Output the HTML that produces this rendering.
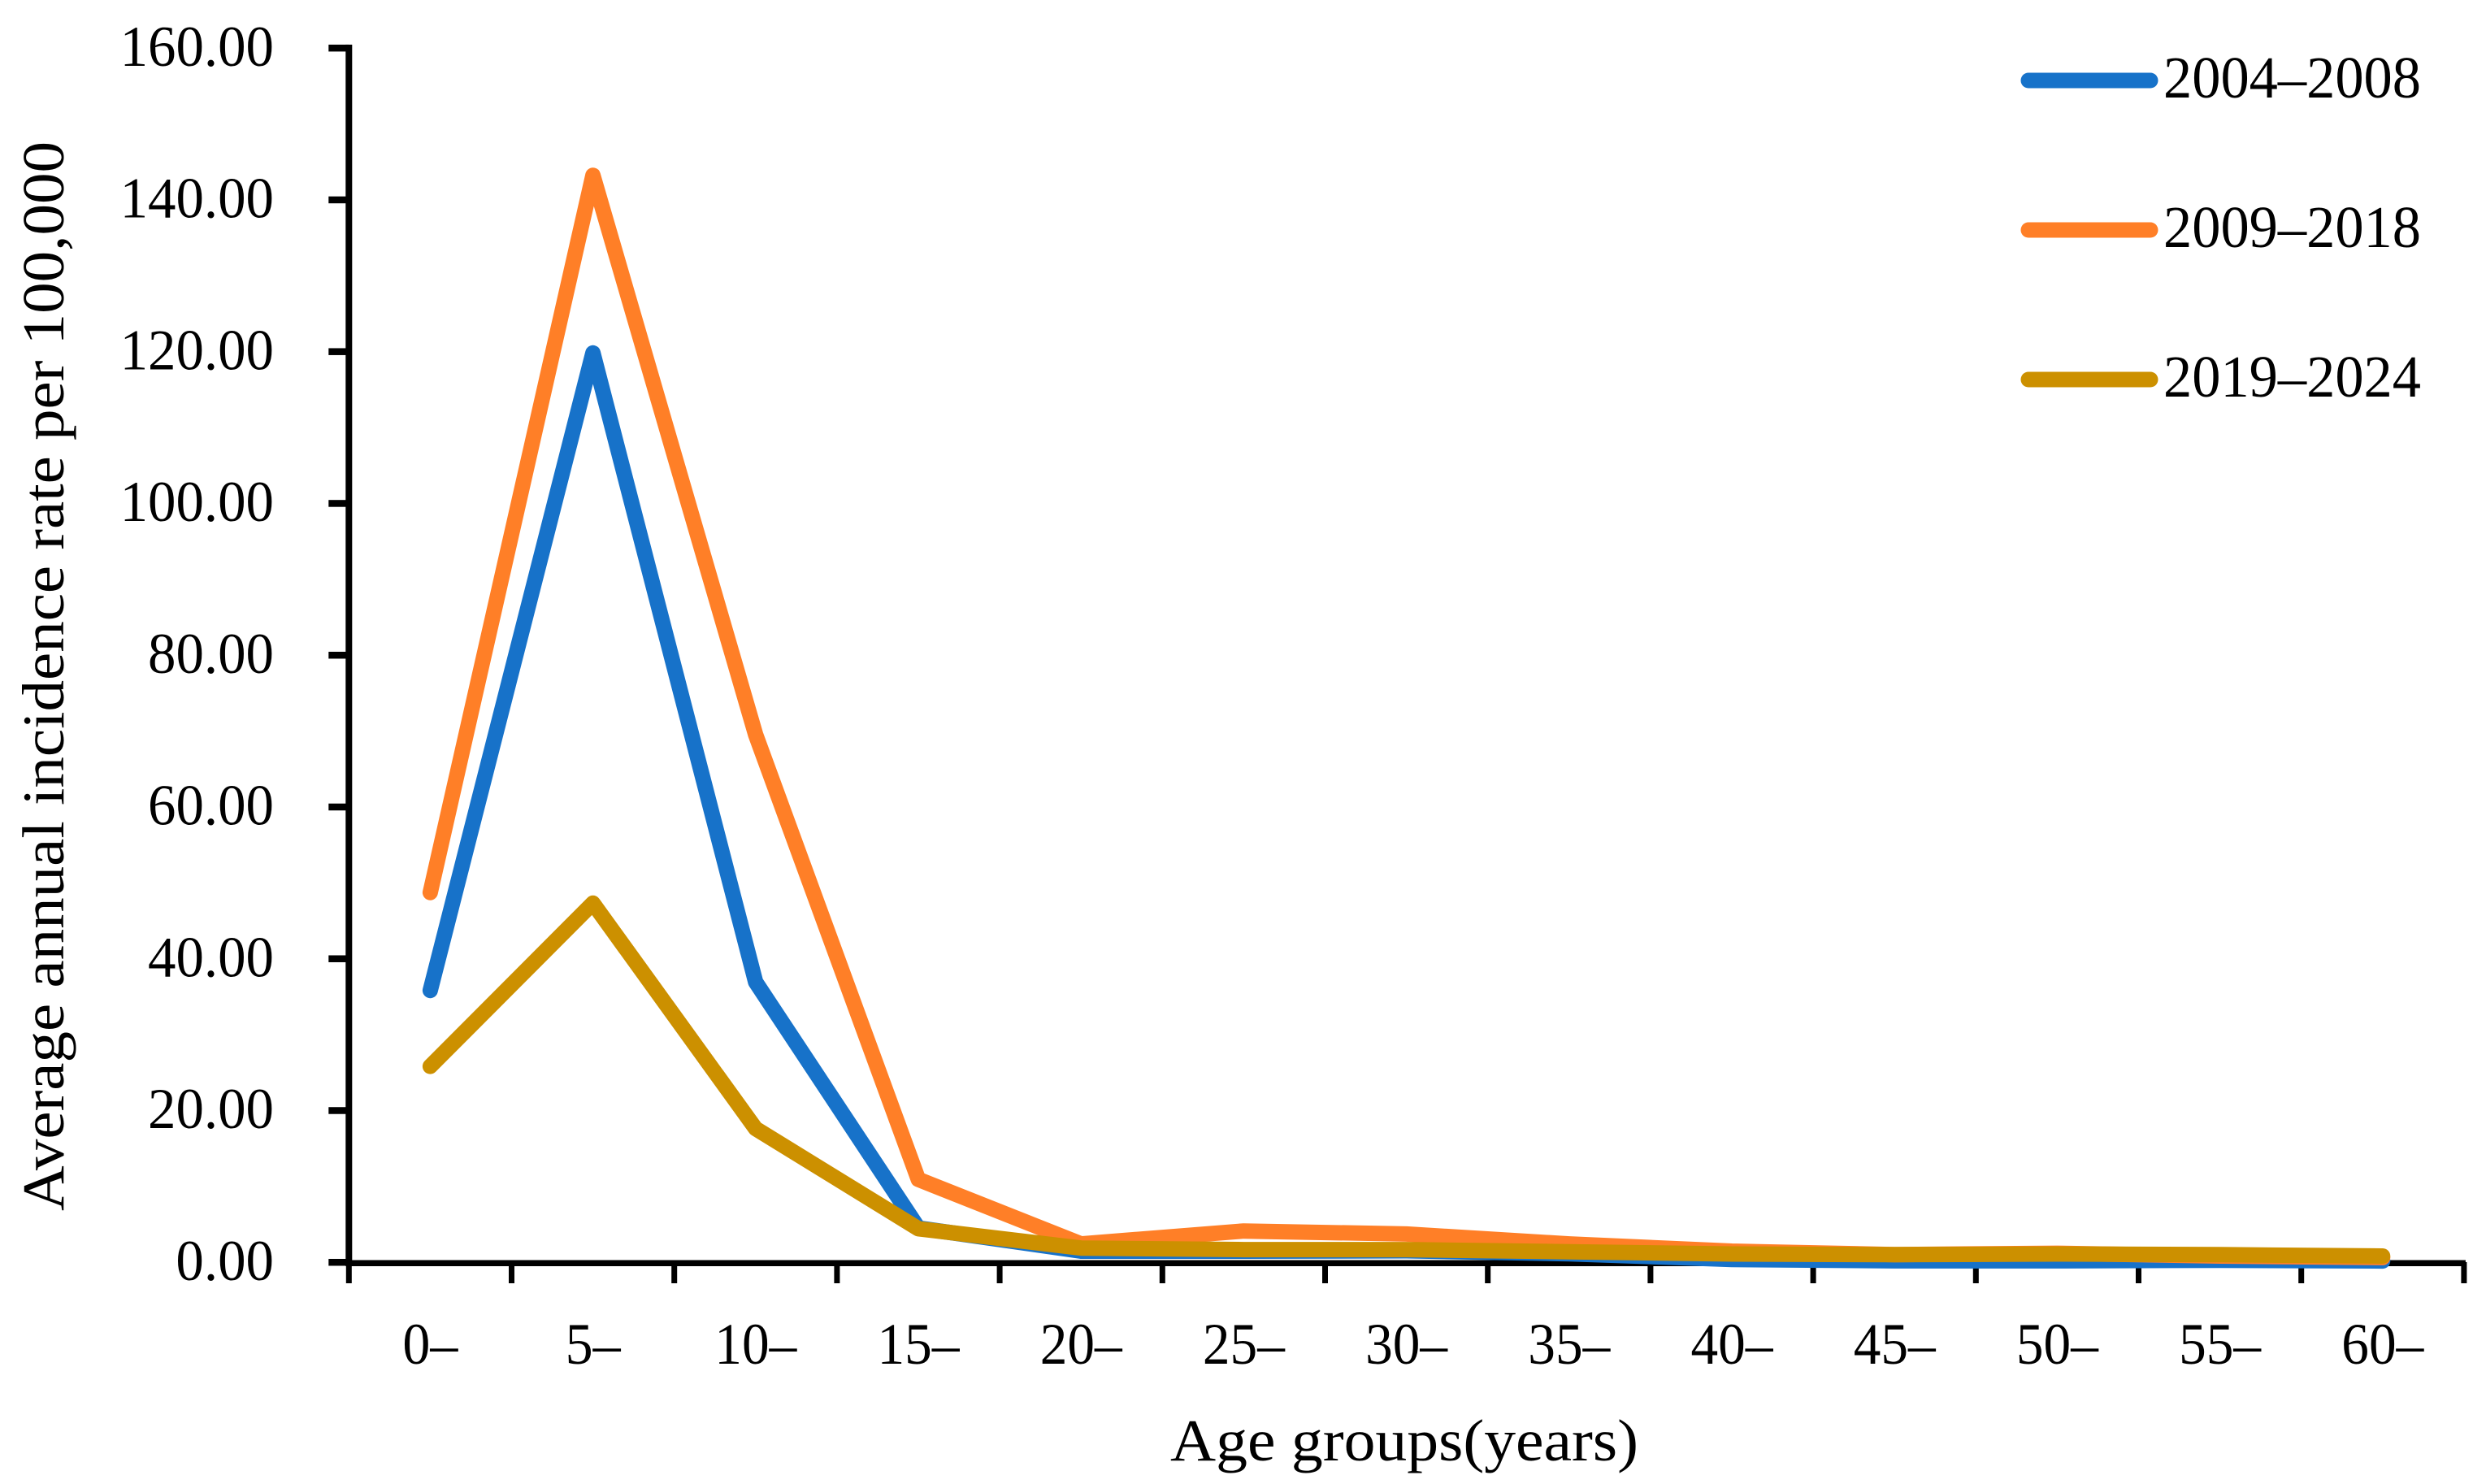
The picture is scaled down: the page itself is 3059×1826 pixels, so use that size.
<!DOCTYPE html>
<html lang="en">
<head>
<meta charset="utf-8">
<title>Average annual incidence rate by age group</title>
<style>
html,body{margin:0;padding:0;background:#fff;}
svg{display:block;}
text{font-family:"Liberation Serif",serif;fill:#000;}
</style>
</head>
<body>
<svg id="chart" xmlns="http://www.w3.org/2000/svg" width="3059" height="1826" viewBox="0 0 3059 1826">
<rect x="0" y="0" width="3059" height="1826" fill="#fff"/>
<g id="axes"></g>
<g id="marks"></g>
<text x="1728" y="1797" font-size="73" text-anchor="middle" textLength="576" lengthAdjust="spacingAndGlyphs">Age groups(years)</text>
<text transform="translate(78,832) rotate(-90)" x="0" y="0" font-size="73" text-anchor="middle" textLength="1316" lengthAdjust="spacingAndGlyphs">Average annual incidence rate per 100,000</text>
<g id="legend"></g>
</svg>
<script>
const categories = ["0–","5–","10–","15–","20–","25–","30–","35–","40–","45–","50–","55–","60–"];
const series2004 = [35.8,119.8,36.9,4.5,1.45,1.45,1.5,1.1,0.35,0.17,0.17,0.25,0.15];
const series2009 = [48.7,143.2,69.5,10.9,2.4,4.1,3.7,2.4,1.45,1.0,1.17,0.8,0.6];
const series2019 = [25.8,47.3,17.6,4.4,1.85,1.65,1.65,1.37,1.07,0.98,1.07,0.98,0.8];
const yTickValues = [0,20,40,60,80,100,120,140,160];
const yTickLabels = ["0.00","20.00","40.00","60.00","80.00","100.00","120.00","140.00","160.00"];
const seriesNames = ["2004–2008","2009–2018","2019–2024"];

const NS = "http://www.w3.org/2000/svg";
const plotLeft = 429.3, categoryWidth = 200.2, plotBottom = 1553, pixelsPerUnit = 9.338;
const seriesColors = ["#1772c9","#ff7f27","#cc9000"];
const seriesData = [series2004, series2009, series2019];

function xEdge(i){ return plotLeft + categoryWidth * i; }
function xPos(i){ return plotLeft + categoryWidth * (i + 0.5); }
function yPos(v){ return plotBottom - v * pixelsPerUnit; }
function make(tag, attrs){
  const el = document.createElementNS(NS, tag);
  for (const k in attrs) el.setAttribute(k, attrs[k]);
  return el;
}

const marks = document.getElementById("marks");
const axes = document.getElementById("axes");
const legend = document.getElementById("legend");

// y axis line
const yLine = make("rect", {x: plotLeft - 4, y: yPos(160) - 4, width: 8, height: plotBottom - yPos(160) + 8, fill: "#000"});


axes.appendChild(yLine);

// x axis line
const xLine = make("rect", {x: plotLeft - 4, y: plotBottom - 2.5, width: xEdge(categories.length) - plotLeft + 6, height: 7.5, fill: "#000"});


axes.appendChild(xLine);

// y ticks and labels
yTickValues.forEach(function(v, i){
  const tick = make("rect", {x: plotLeft - 25, y: yPos(v) - 4, width: 25, height: 8.5, fill: "#000"});
  
  
  axes.appendChild(tick);
  const label = make("text", {x: 337, y: yPos(v) + 22, "font-size": 71, "text-anchor": "end", textLength: yTickLabels[i].length * 34.4 - 17, lengthAdjust: "spacingAndGlyphs"});
  
  
  label.textContent = yTickLabels[i];
  axes.appendChild(label);
});

// x ticks
for (let i = 0; i <= categories.length; i++) {
  const tick = make("rect", {x: xEdge(i) - 3.5, y: plotBottom, width: 7, height: 26, fill: "#000"});
  
  
  axes.appendChild(tick);
}

// x labels
categories.forEach(function(c, i){
  const label = make("text", {x: xPos(i), y: 1678, "font-size": 72, "text-anchor": "middle", textLength: 35 + 33 * (c.length - 1), lengthAdjust: "spacingAndGlyphs"});
  
  
  label.textContent = c;
  axes.appendChild(label);
});

// series lines
seriesData.forEach(function(values, s){
  const pts = values.map(function(v, i){ return xPos(i).toFixed(1) + "," + yPos(v).toFixed(1); }).join(" ");
  const line = make("polyline", {points: pts, fill: "none", stroke: seriesColors[s], "stroke-width": 19, "stroke-linecap": "round", "stroke-linejoin": "round"});
  
  
  marks.appendChild(line);
});

// legend
const legendRows = [99, 283, 467];
seriesNames.forEach(function(name, s){
  const key = make("line", {x1: 2496, x2: 2646, y1: legendRows[s], y2: legendRows[s], stroke: seriesColors[s], "stroke-width": 19, "stroke-linecap": "round"});
  
  
  legend.appendChild(key);
  const label = make("text", {x: 2662, y: legendRows[s] + 21, "font-size": 73, textLength: 317, lengthAdjust: "spacingAndGlyphs"});
  
  
  label.textContent = name;
  legend.appendChild(label);
});
</script>
</body>
</html>
